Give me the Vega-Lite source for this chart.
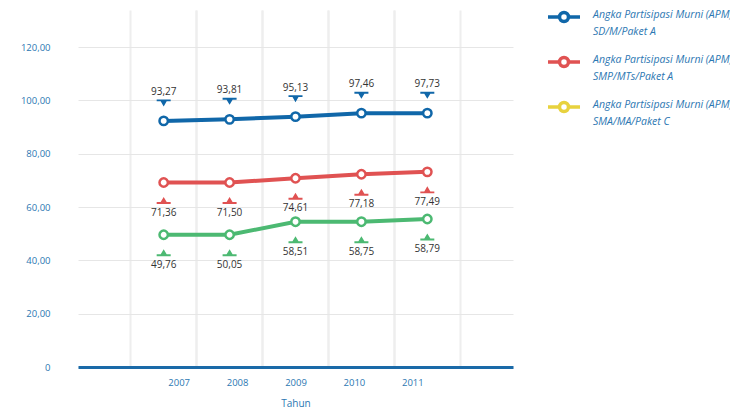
{
  "$schema": "https://vega.github.io/schema/vega-lite/v6.json",
  "width": 435,
  "height": 357,
  "autosize": {"type": "none"},
  "padding": {"left": 78, "top": 10, "right": 217, "bottom": 45},
  "background": "white",
  "data": {
    "values": [
      {"year": 2007, "series": "Angka Partisipasi Murni (APM) SD/M/Paket A", "pos": 92.3, "value": 93.27},
      {"year": 2008, "series": "Angka Partisipasi Murni (APM) SD/M/Paket A", "pos": 92.9, "value": 93.81},
      {"year": 2009, "series": "Angka Partisipasi Murni (APM) SD/M/Paket A", "pos": 93.9, "value": 95.13},
      {"year": 2010, "series": "Angka Partisipasi Murni (APM) SD/M/Paket A", "pos": 95.2, "value": 97.46},
      {"year": 2011, "series": "Angka Partisipasi Murni (APM) SD/M/Paket A", "pos": 95.2, "value": 97.73},
      {"year": 2007, "series": "Angka Partisipasi Murni (APM) SMP/MTs/Paket A", "pos": 69.2, "value": 71.36},
      {"year": 2008, "series": "Angka Partisipasi Murni (APM) SMP/MTs/Paket A", "pos": 69.2, "value": 71.50},
      {"year": 2009, "series": "Angka Partisipasi Murni (APM) SMP/MTs/Paket A", "pos": 70.8, "value": 74.61},
      {"year": 2010, "series": "Angka Partisipasi Murni (APM) SMP/MTs/Paket A", "pos": 72.3, "value": 77.18},
      {"year": 2011, "series": "Angka Partisipasi Murni (APM) SMP/MTs/Paket A", "pos": 73.2, "value": 77.49},
      {"year": 2007, "series": "Angka Partisipasi Murni (APM) SMA/MA/Paket C", "pos": 49.6, "value": 49.76},
      {"year": 2008, "series": "Angka Partisipasi Murni (APM) SMA/MA/Paket C", "pos": 49.6, "value": 50.05},
      {"year": 2009, "series": "Angka Partisipasi Murni (APM) SMA/MA/Paket C", "pos": 54.5, "value": 58.51},
      {"year": 2010, "series": "Angka Partisipasi Murni (APM) SMA/MA/Paket C", "pos": 54.5, "value": 58.75},
      {"year": 2011, "series": "Angka Partisipasi Murni (APM) SMA/MA/Paket C", "pos": 55.5, "value": 58.79}
    ]
  },
  "layer": [
    {
      "mark": {"type": "line", "strokeWidth": 4, "strokeCap": "round"},
      "encoding": {
        "x": {
          "field": "year", "type": "ordinal",
          "scale": {"type": "band", "paddingInner": 0, "paddingOuter": 0.8},
          "axis": {
            "title": "Tahun", "titleColor": "#2c77b2", "titleFont": "Open Sans", "titleFontSize": 10, "titleFontWeight": "normal", "titlePadding": 12,
            "labelAngle": 0, "labelColor": "#2c77b2", "labelFont": "Open Sans", "labelFontSize": 9.5, "labelPadding": 10,
            "ticks": false, "domainColor": "#1a6aa8", "domainWidth": 3,
            "grid": true, "gridColor": "#eeeeee", "gridWidth": 2, "bandPosition": 0,
            "encoding": {"labels": {"dx": {"value": {"expr": "0.5 - 7.5 * (datum.value - 2009)"}}}}
          }
        },
        "y": {
          "field": "pos", "type": "quantitative",
          "scale": {"domain": [0, 133.9], "nice": false},
          "axis": {
            "title": null, "values": [0, 20, 40, 60, 80, 100, 120], "format": ".2f",
            "labelExpr": "datum.value == 0 ? '0' : datum.label",
            "grid": true, "gridColor": "#e6e6e6", "gridWidth": 1, "domain": false, "ticks": false,
            "labelPadding": 28, "labelColor": "#2c77b2", "labelFont": "Open Sans", "labelFontSize": 9.5
          }
        },
        "color": {
          "field": "series", "type": "nominal",
          "scale": {"range": ["#1067a9", "#4cb972", "#e05252"]},
          "legend": null
        }
      }
    },
    {
      "mark": {"type": "point", "filled": false, "fill": "white", "size": 70, "strokeWidth": 2.5, "opacity": 1},
      "encoding": {
        "x": {"field": "year", "type": "ordinal", "axis": null},
        "y": {"field": "pos", "type": "quantitative"},
        "color": {"field": "series", "type": "nominal", "legend": null}
      }
    },
    {
      "transform": [{"filter": "indexof(datum.series, 'SD/') >= 0"}],
      "mark": {"type": "point", "filled": true, "opacity": 1, "size": 196, "yOffset": -18,
        "shape": "M-1,-0.5 L1,-0.5 L1,-0.22 L0.43,-0.22 L0,0.5 L-0.43,-0.22 L-1,-0.22 Z"},
      "encoding": {
        "x": {"field": "year", "type": "ordinal", "axis": null},
        "y": {"field": "pos", "type": "quantitative"},
        "color": {"field": "series", "type": "nominal", "legend": null}
      }
    },
    {
      "transform": [{"filter": "indexof(datum.series, 'SD/') < 0"}],
      "mark": {"type": "point", "filled": true, "opacity": 1, "size": 196, "yOffset": 18,
        "shape": "M-1,0.5 L1,0.5 L1,0.22 L0.43,0.22 L0,-0.5 L-0.43,0.22 L-1,0.22 Z"},
      "encoding": {
        "x": {"field": "year", "type": "ordinal", "axis": null},
        "y": {"field": "pos", "type": "quantitative"},
        "color": {"field": "series", "type": "nominal", "legend": null}
      }
    },
    {
      "transform": [{"filter": "indexof(datum.series, 'SD/') >= 0"}],
      "mark": {"type": "text", "font": "Open Sans", "fontSize": 10, "color": "#333333", "baseline": "middle", "dy": -29},
      "encoding": {
        "x": {
          "field": "year", "type": "ordinal",
          "axis": {"orient": "top", "bandPosition": 1, "grid": true, "gridColor": "#eeeeee", "gridWidth": 2, "labels": false, "ticks": false, "domain": false, "title": null}
        },
        "y": {"field": "pos", "type": "quantitative"},
        "text": {"field": "value", "type": "quantitative", "format": ".2f"}
      }
    },
    {
      "transform": [{"filter": "indexof(datum.series, 'SD/') < 0"}],
      "mark": {"type": "text", "font": "Open Sans", "fontSize": 10, "color": "#333333", "baseline": "middle", "dy": 30},
      "encoding": {
        "x": {"field": "year", "type": "ordinal", "axis": null},
        "y": {"field": "pos", "type": "quantitative"},
        "text": {"field": "value", "type": "quantitative", "format": ".2f"}
      }
    },
    {
      "transform": [{"filter": "datum.year < 0"}],
      "mark": {"type": "point", "filled": false, "fill": "white", "strokeWidth": 3.5, "opacity": 1},
      "encoding": {
        "x": {"field": "year", "type": "ordinal", "axis": null},
        "y": {"field": "pos", "type": "quantitative"},
        "stroke": {
          "field": "series", "type": "nominal",
          "scale": {
            "domain": ["Angka Partisipasi Murni (APM) SD/M/Paket A", "Angka Partisipasi Murni (APM) SMP/MTs/Paket A", "Angka Partisipasi Murni (APM) SMA/MA/Paket C"],
            "range": ["#1067a9", "#e05252", "#e8d23e"]
          },
          "legend": {
            "orient": "none", "legendX": 468, "legendY": -11, "title": null, "padding": 0,
            "symbolType": "M0.28,0 C0.28,0.155 0.155,0.28 0,0.28 C-0.155,0.28 -0.28,0.155 -0.28,0 C-0.28,-0.155 -0.155,-0.28 0,-0.28 C0.155,-0.28 0.28,-0.155 0.28,0 Z M-1,0 L-0.28,0 M0.28,0 L1,0",
            "symbolSize": 1024, "symbolStrokeWidth": 3.5, "symbolOpacity": 1, "symbolFillColor": "white",
            "labelFont": "Open Sans", "labelFontStyle": "italic", "labelFontSize": 10.5, "labelColor": "#2c77b2",
            "labelExpr": "[slice(datum.label, 0, 29), slice(datum.label, 30)]",
            "labelBaseline": "top", "labelOffset": 11, "labelLimit": 0, "rowPadding": 6,
            "encoding": {
              "labels": {"dy": {"value": -7}, "lineHeight": {"value": 17}}
            }
          }
        }
      }
    }
  ],
  "resolve": {"axis": {"x": "independent"}},
  "config": {
    "locale": {"number": {"decimal": ",", "thousands": ".", "grouping": [3], "currency": ["", ""]}},
    "view": {"stroke": null},
    "font": "Open Sans"
  }
}
